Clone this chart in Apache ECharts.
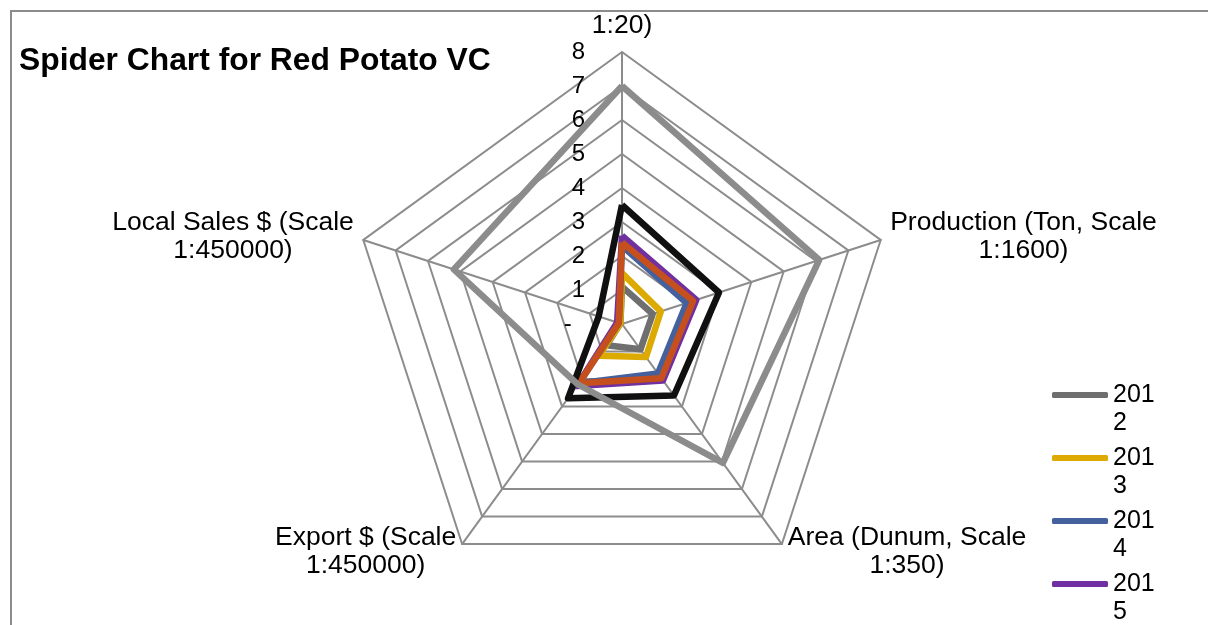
<!DOCTYPE html>
<html>
<head>
<meta charset="utf-8">
<title>Spider Chart for Red Potato VC</title>
<script src="https://cdn.jsdelivr.net/npm/echarts@6/dist/echarts.min.js"></script>
<style>
  html, body { margin: 0; padding: 0; background: #fff; }
  #main { width: 1208px; height: 625px; }
</style>
</head>
<body>
<div id="main"></div>
<script>
// indicators, counter-clockwise from the top (the way echarts lays them out)
var indicatorNames = [
  '1:20)',
  'Local Sales $ (Scale\n1:450000)',
  'Export $ (Scale\n1:450000)',
  'Area (Dunum, Scale\n1:350)',
  'Production (Ton, Scale\n1:1600)'
];
var axisMax = 8;
var tickStep = 1;

var seriesNames = ['2012', '2013', '2014', '2015', '2016', '2017', 'Target'];
var seriesColors = ['#6f6f6f', '#dcaa00', '#44619d', '#7030a0', '#c5501e', '#101010', '#8c8c8c'];

// values in indicator order: top, local sales, export, area, production
var v2012 = [1.1, 0.05, 0.77, 0.92, 0.95];
var v2013 = [1.5, 0.05, 1.15, 1.2, 1.2];
var v2014 = [2.3, 0.1, 2.15, 1.8, 2.0];
var v2015 = [2.6, 0.15, 2.25, 2.05, 2.3];
var v2016 = [2.4, 0.1, 2.15, 1.97, 2.2];
var v2017 = [3.5, 0.72, 2.7, 2.6, 3.0];
var vTarget = [7.0, 5.2, 2.2, 5.05, 6.1];

var allValues = [v2012, v2013, v2014, v2015, v2016, v2017, vTarget];

var font = "'Liberation Sans', Arial, sans-serif";

var myChart = echarts.init(document.getElementById('main'));

myChart.setOption({
  animation: false,
  backgroundColor: '#fff',
  title: {
    text: 'Spider Chart for Red Potato VC',
    left: 19,
    top: 45,
    padding: 0,
    textStyle: { fontFamily: font, fontSize: 31.8, fontWeight: 'bold', color: '#000' }
  },
  graphic: [{
    // chart frame, runs off the right and bottom edges
    type: 'rect',
    silent: true,
    z: -1,
    shape: { x: 11, y: 11, width: 1400, height: 900 },
    style: { fill: 'none', stroke: '#8c8c8c', lineWidth: 2 }
  }],
  legend: {
    orient: 'vertical',
    left: 1052,
    top: 353,
    height: 900,
    padding: 0,
    itemWidth: 56,
    itemHeight: 6,
    itemGap: -21,
    icon: 'roundRect',
    data: seriesNames,
    itemStyle: { borderWidth: 0 },
    // empty first line so that "201" sits level with the swatch and the last digit wraps below
    formatter: function (n) { return ' \n' + n.slice(0, 3) + '\n' + n.slice(3); },
    textStyle: { fontFamily: font, fontSize: 25, lineHeight: 28, color: '#000' }
  },
  radar: {
    center: [622, 324],
    radius: 272,
    startAngle: 90,
    splitNumber: axisMax / tickStep,
    shape: 'polygon',
    nameGap: 10,
    indicator: indicatorNames.map(function (n) { return { name: n, min: 0, max: axisMax }; }),
    axisName: {
      color: '#000',
      fontFamily: font,
      fontSize: 26.5,
      lineHeight: 28,
      formatter: function (name) {
        var key = name.indexOf('\n') < 0 ? 't' : 'c';
        return name.split('\n').map(function (s) { return '{' + key + '|' + s + '}'; }).join('\n');
      },
      rich: {
        c: { align: 'center', fontFamily: font, fontSize: 26.5, lineHeight: 28, color: '#000' },
        t: { align: 'center', fontFamily: font, fontSize: 26.5, lineHeight: 28, color: '#000', padding: [0, 0, 5, 0] }
      }
    },
    axisLine: { lineStyle: { color: '#8c8c8c', width: 2 } },
    splitLine: { lineStyle: { color: '#8c8c8c', width: 2 } },
    splitArea: { show: false },
    axisTick: { show: false },
    axisLabel: { show: false }
  },
  // polar axis only used to put the 0..8 labels along the top spoke
  polar: { center: [622, 324], radius: 272 },
  angleAxis: { type: 'value', min: 0, max: 360, show: false },
  radiusAxis: {
    type: 'value',
    min: 0,
    max: axisMax,
    interval: tickStep,
    axisLine: { show: false },
    axisTick: { show: false },
    splitLine: { show: false },
    axisLabel: {
      margin: 37,
      fontFamily: font,
      fontSize: 24,
      color: '#000',
      formatter: function (v) { return v === 0 ? '-  ' : String(v); }
    }
  },
  series: [{
    type: 'radar',
    symbol: 'none',
    data: allValues.map(function (vals, i) {
      return {
        name: seriesNames[i],
        value: vals,
        itemStyle: { color: seriesColors[i] },
        lineStyle: { color: seriesColors[i], width: 6.5 }
      };
    })
  }]
});
</script>
</body>
</html>
